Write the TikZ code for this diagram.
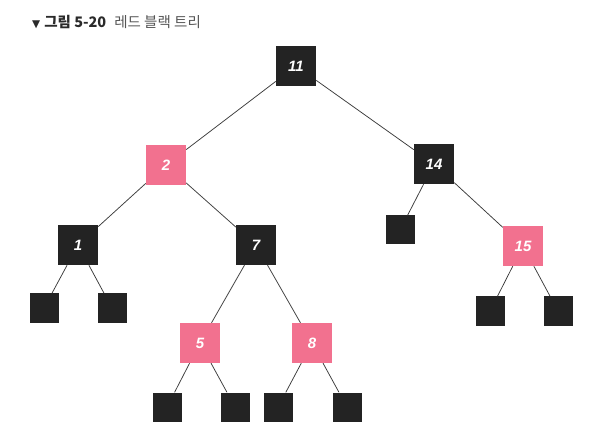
\documentclass[tikz,border=0pt]{standalone}
\usepackage{fontspec}
\setmainfont{Liberation Sans}
\newfontfamily\krfont{Noto Sans CJK KR}
\newfontfamily\symfont{DejaVu Sans}
\definecolor{nodeblack}{HTML}{232323}
\definecolor{nodepink}{HTML}{F2718F}
\definecolor{edgecol}{HTML}{3A3A3A}
\definecolor{titledark}{HTML}{2A2A2A}
\definecolor{titlegray}{HTML}{555555}
\begin{document}
\begin{tikzpicture}[x=1pt,y=-1pt,
  bnode/.style={rectangle,fill=nodeblack,minimum size=40pt,inner sep=0pt,text=white,font=\bfseries\itshape\fontsize{15}{15}\selectfont},
  rnode/.style={rectangle,fill=nodepink,minimum size=40pt,inner sep=0pt,text=white,font=\bfseries\itshape\fontsize{15}{15}\selectfont},
  leaf/.style={rectangle,fill=nodeblack,minimum size=29pt,inner sep=0pt},
  edge/.style={draw=edgecol,line width=0.75pt}]
\useasboundingbox (0,0) rectangle (599,427);
% title
\node[anchor=west,inner sep=0pt] (title) at (32,22) {{\symfont\fontsize{10.5}{10.5}\selectfont\color{titledark}▼}\hspace{4pt}{\krfont\bfseries\fontsize{14.5}{14.5}\selectfont\color{titledark}그림 5-20}\hspace{8pt}{\krfont\fontsize{14.5}{14.5}\selectfont\color{titlegray}레드 블랙 트리}};
% nodes
\node[bnode] (n11) at (296,66) {11};
\node[rnode] (n2) at (166,165) {2};
\node[bnode] (n14) at (434,164) {14};
\node[bnode] (n1) at (78,245) {1};
\node[bnode] (n7) at (256,245) {7};
\node[leaf] (l14) at (400,230) {};
\node[rnode] (n15) at (523,246) {15};
\node[leaf] (l1a) at (44,308) {};
\node[leaf] (l1b) at (112,308) {};
\node[rnode] (n5) at (200,343) {5};
\node[rnode] (n8) at (312,343) {8};
\node[leaf] (l15a) at (490,311) {};
\node[leaf] (l15b) at (558,311) {};
\node[leaf] (l5a) at (167,407) {};
\node[leaf] (l5b) at (235,407) {};
\node[leaf] (l8a) at (278,407) {};
\node[leaf] (l8b) at (347,407) {};
% edges
\draw[edge] (n11) -- (n2);
\draw[edge] (n11) -- (n14);
\draw[edge] (n2) -- (n1);
\draw[edge] (n2) -- (n7);
\draw[edge] (n14) -- (l14);
\draw[edge] (n14) -- (n15);
\draw[edge] (n1) -- (l1a);
\draw[edge] (n1) -- (l1b);
\draw[edge] (n7) -- (n5);
\draw[edge] (n7) -- (n8);
\draw[edge] (n15) -- (l15a);
\draw[edge] (n15) -- (l15b);
\draw[edge] (n5) -- (l5a);
\draw[edge] (n5) -- (l5b);
\draw[edge] (n8) -- (l8a);
\draw[edge] (n8) -- (l8b);
\end{tikzpicture}
\end{document}
